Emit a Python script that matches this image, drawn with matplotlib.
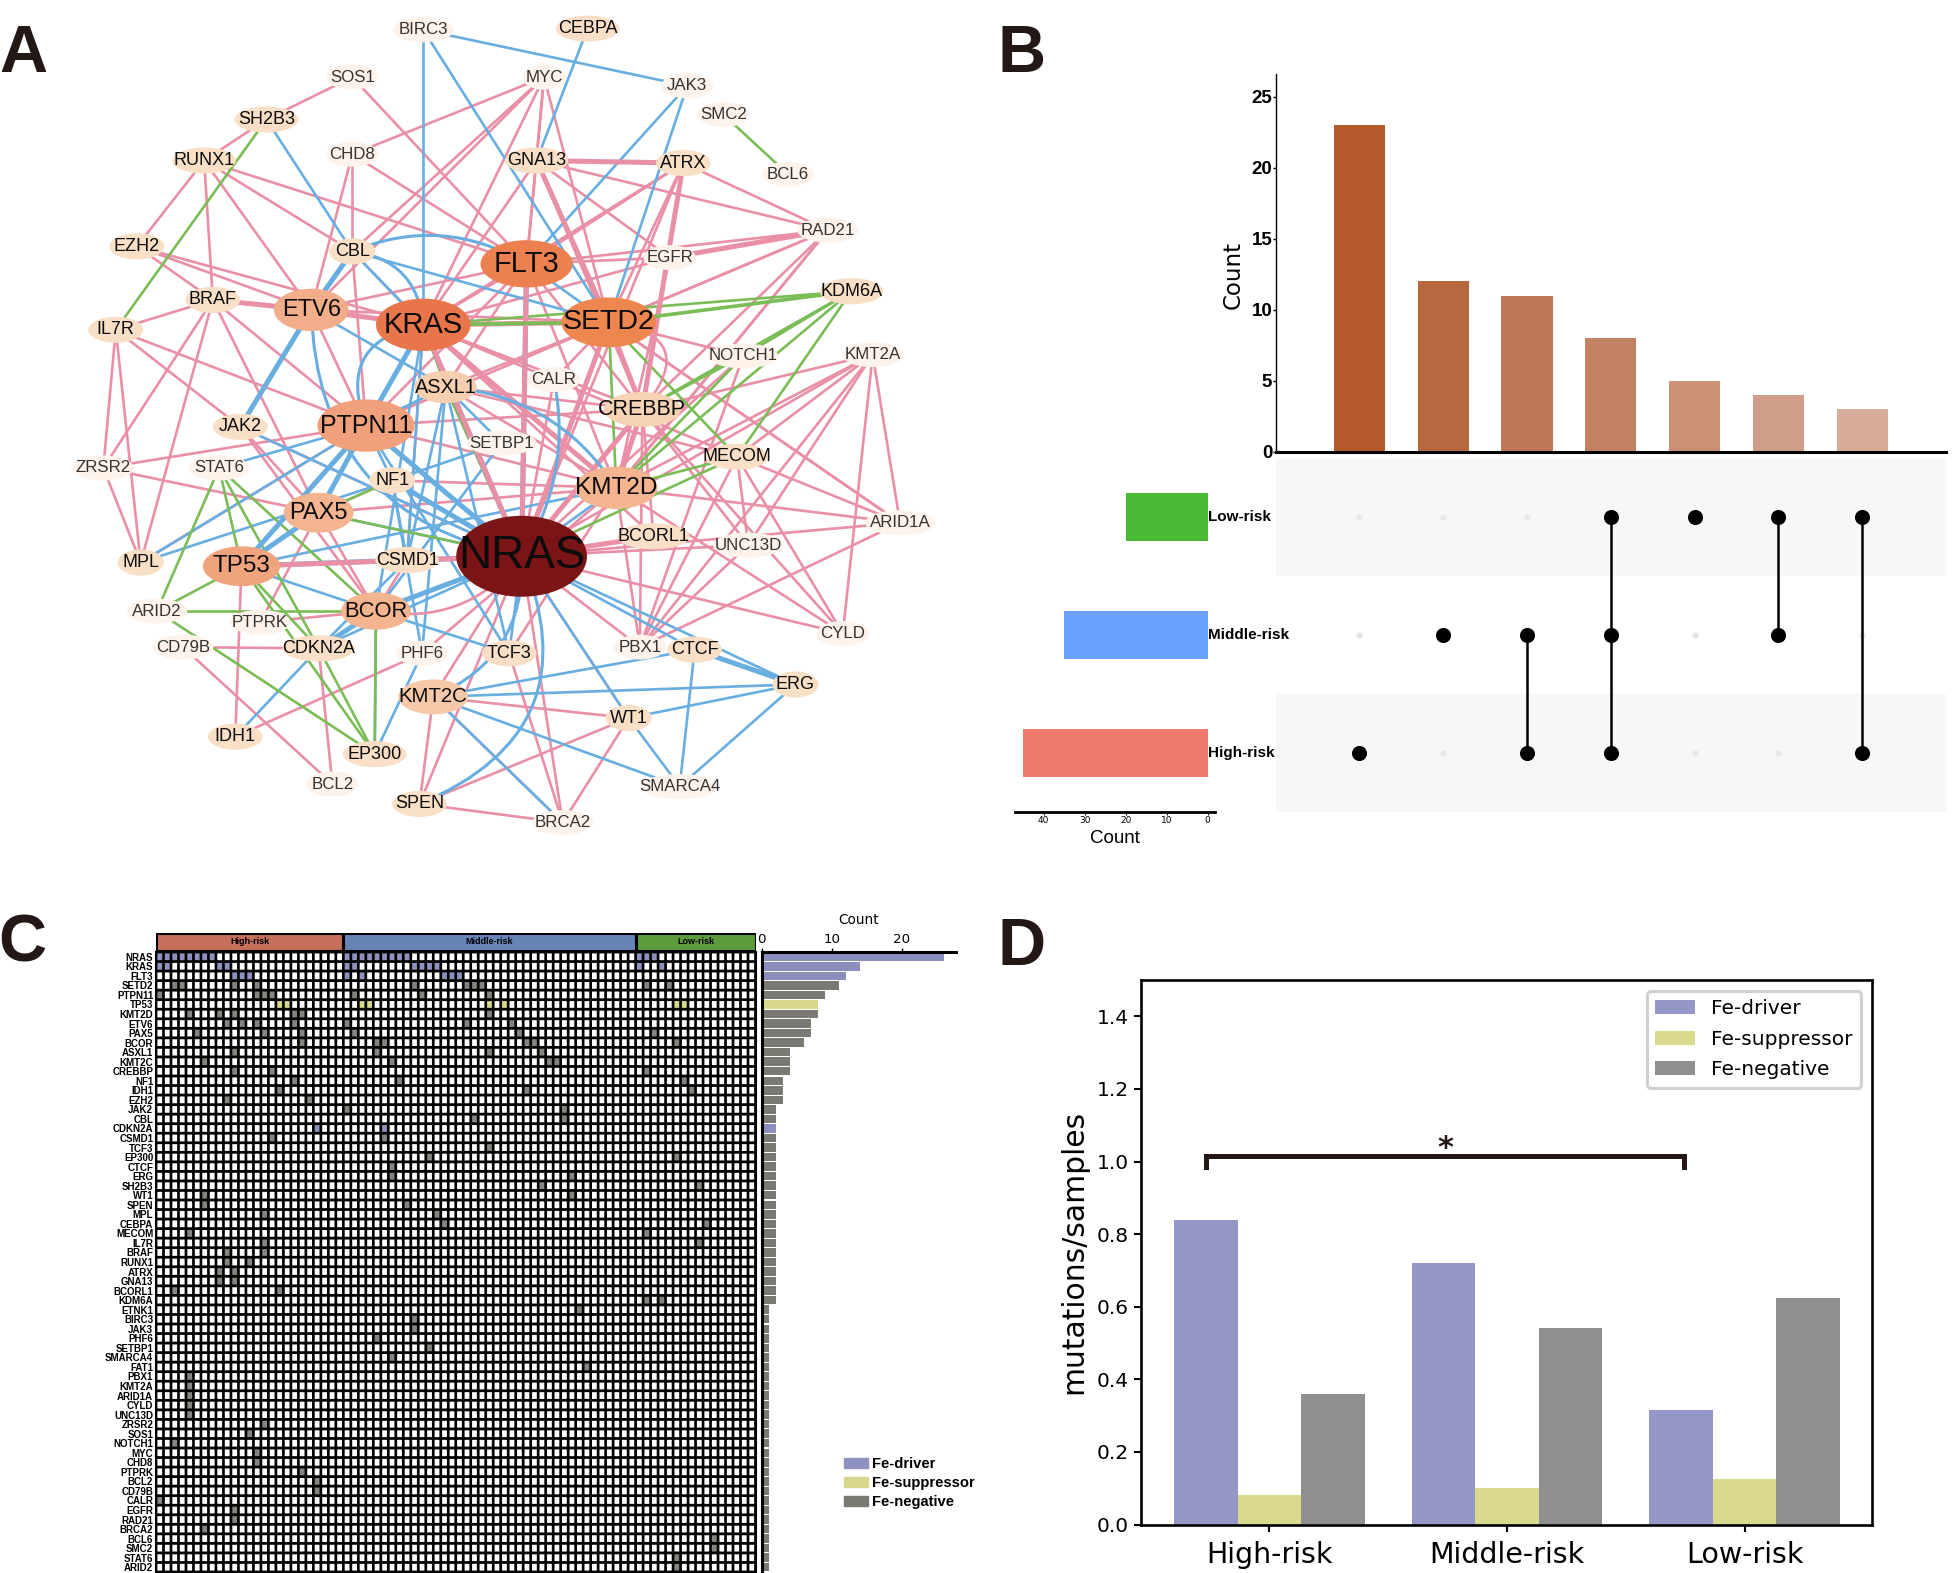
import numpy as np
import matplotlib
matplotlib.use('Agg')
import matplotlib.pyplot as plt
from matplotlib.collections import PolyCollection
from matplotlib.patches import Ellipse, FancyArrowPatch, Patch

W, H = 1952, 1573

# panel A, network (layout in the 1568 wide frame)
big_nodes = {'NRAS': (419, 447), 'KRAS': (340, 261), 'FLT3': (423, 212), 'SETD2': (489, 259),
             'PTPN11': (294, 342), 'ETV6': (250, 249), 'TP53': (194, 455), 'KMT2D': (495, 392),
             'PAX5': (256, 412), 'BCOR': (302, 491), 'ASXL1': (358, 311), 'CREBBP': (516, 329),
             'KMT2C': (348, 560)}
mid_nodes = {'NF1': (315, 386), 'CSMD1': (327, 450), 'TCF3': (409, 525), 'CDKN2A': (256, 521),
             'EP300': (301, 606), 'IDH1': (189, 592), 'SPEN': (337, 646), 'WT1': (505, 577),
             'ERG': (639, 550), 'CTCF': (558, 522), 'BCORL1': (525, 431), 'MECOM': (592, 367),
             'KDM6A': (684, 234), 'ATRX': (549, 131), 'GNA13': (431, 129), 'CBL': (283, 202),
             'BRAF': (171, 241), 'JAK2': (193, 343), 'MPL': (113, 452), 'IL7R': (93, 265),
             'EZH2': (110, 198), 'RUNX1': (164, 129), 'SH2B3': (214, 96), 'CEBPA': (472, 23)}
small_nodes = {'SOS1': (283, 62), 'BIRC3': (340, 24), 'MYC': (437, 62), 'JAK3': (552, 69),
               'SMC2': (581, 92), 'BCL6': (633, 140), 'CHD8': (283, 124), 'RAD21': (665, 185),
               'EGFR': (538, 207), 'NOTCH1': (597, 286), 'KMT2A': (701, 285), 'CALR': (445, 305),
               'SETBP1': (403, 356), 'STAT6': (176, 376), 'ZRSR2': (83, 376), 'ARID1A': (723, 420),
               'UNC13D': (601, 438), 'ARID2': (126, 491), 'PTPRK': (209, 500), 'CD79B': (147, 520),
               'PHF6': (339, 525), 'PBX1': (514, 520), 'CYLD': (677, 509), 'BCL2': (267, 630),
               'SMARCA4': (546, 632), 'BRCA2': (452, 661)}

pink_thin = """SOS1-SH2B3 SOS1-FLT3 SH2B3-RUNX1 CHD8-MYC CHD8-ETV6 CHD8-CBL CHD8-FLT3 RUNX1-EZH2
RUNX1-BRAF RUNX1-ETV6 RUNX1-CBL RUNX1-FLT3 EZH2-ETV6 EZH2-KRAS EZH2-BRAF IL7R-BRAF BRAF-PTPN11 BRAF-MPL
BRAF-ZRSR2 BRAF-PAX5 IL7R-JAK2 IL7R-PTPN11 IL7R-ZRSR2 IL7R-MPL ETV6-KRAS ETV6-FLT3 ETV6-SETD2 ETV6-PTPN11
CBL-PTPN11 CBL-ETV6 CBL-KRAS MYC-CBL MYC-ETV6 MYC-KRAS MYC-FLT3 MYC-SETD2 MYC-GNA13 GNA13-RAD21 GNA13-FLT3
GNA13-KRAS GNA13-EGFR GNA13-CREBBP ATRX-RAD21 ATRX-KRAS ATRX-FLT3 ATRX-SETD2 ATRX-NRAS RAD21-EGFR
RAD21-FLT3 RAD21-SETD2 RAD21-CREBBP RAD21-KMT2D RAD21-SETD2 EGFR-FLT3 EGFR-KMT2D EGFR-KRAS SETD2-NOTCH1
SETD2-ASXL1 SETD2-PTPN11 SETD2-ARID1A FLT3-KMT2D FLT3-ASXL1 FLT3-PTPN11 FLT3-CREBBP FLT3-KRAS KMT2A-MECOM KMT2A-CREBBP
KMT2A-KMT2D KMT2A-NRAS KMT2A-CYLD KMT2A-ARID1A KMT2A-UNC13D KMT2A-PBX1 ZRSR2-PTPN11 ZRSR2-PAX5 ZRSR2-MPL
MPL-PTPN11 TP53-PTPN11 BCOR-PAX5 BCOR-PTPRK PTPRK-PAX5 CD79B-CDKN2A CD79B-BCL2 CDKN2A-BCL2 TP53-IDH1
IDH1-PHF6 SPEN-KMT2C SPEN-NRAS SPEN-BRCA2 SPEN-WT1 KMT2C-BRCA2 KMT2C-WT1 KMT2C-NRAS BCOR-CSMD1 BCOR-NRAS
NRAS-PBX1 NRAS-CYLD NRAS-ARID1A NRAS-UNC13D NRAS-BRCA2 NRAS-ASXL1 NRAS-KRAS NRAS-PTPN11 NRAS-NF1 PBX1-MECOM
PBX1-UNC13D PBX1-ARID1A CYLD-KMT2D CYLD-CREBBP CYLD-MECOM UNC13D-CREBBP UNC13D-MECOM KMT2D-ARID1A
KMT2D-PBX1 MECOM-ARID1A SETD2-ARID1A ASXL1-KMT2D ASXL1-CREBBP ASXL1-MECOM KRAS-CREBBP KRAS-MECOM
PTPN11-CREBBP PTPN11-KMT2D NF1-KMT2D NF1-PAX5 PAX5-KMT2D JAK2-PAX5 JAK2-BCOR JAK2-NRAS WT1-NRAS WT1-BRCA2
BRCA2-TCF3 PHF6-KMT2D CSMD1-KRAS TCF3-KMT2D CALR-NRAS CALR-SETD2 CREBBP-BCORL1 CREBBP-PBX1 BCORL1-KRAS
NOTCH1-PBX1 NOTCH1-NRAS RAD21-KMT2D""".split()
pink_thick = """GNA13-ATRX BRAF-ETV6 GNA13-SETD2 ATRX-CREBBP SETD2-CREBBP SETD2-NRAS FLT3-NRAS
KRAS-KMT2D KRAS-SETD2 KRAS-NRAS TP53-NRAS CREBBP-NRAS CREBBP-KMT2D NRAS-BCORL1 ETV6-KRAS RAD21-EGFR""".split()
blue_thin = """BIRC3-KRAS BIRC3-JAK3 BIRC3-SETD2 SH2B3-CBL CBL-KRAS CBL-SETD2 CEBPA-GNA13 JAK3-FLT3
JAK3-SETD2 MPL-PTPN11 MPL-NF1 STAT6-PTPN11 TP53-BCOR IDH1-CDKN2A EP300-BCOR EP300-PHF6 CDKN2A-CSMD1 CDKN2A-NRAS
BCOR-TCF3 TCF3-NRAS TCF3-ASXL1 PHF6-NF1 PHF6-ASXL1 PTPN11-NF1 JAK2-NRAS CSMD1-NF1 CSMD1-ASXL1 KMT2C-CTCF
KMT2C-ERG KMT2C-SMARCA4 CTCF-NRAS ERG-NRAS CTCF-SMARCA4 ERG-SMARCA4 WT1-ERG WT1-SMARCA4 WT1-NRAS BRCA2-KMT2C
ETV6-ASXL1 KRAS-KMT2D SETBP1-NF1 SETBP1-BCOR ASXL1-SETBP1 KRAS-BCOR PTPN11-ASXL1 FLT3-SETD2 PAX5-NRAS TP53-KMT2D
PTPN11-TCF3 KRAS-CSMD1 KMT2D-NRAS""".split()
blue_thick = """ETV6-CBL ETV6-JAK2 FLT3-NRAS TP53-PTPN11 TP53-CSMD1 CSMD1-NRAS BCOR-NRAS CDKN2A-BCOR
PTPN11-NRAS KRAS-PTPN11 NF1-NRAS CTCF-ERG KRAS-NRAS TP53-PAX5 PTPN11-PAX5""".split()
blue_curved = [('CBL', 'FLT3', -0.25), ('CBL', 'KRAS', -0.4), ('ETV6', 'NRAS', 0.4), ('KRAS', 'PTPN11', 0.6),
               ('ASXL1', 'KMT2D', -0.25), ('KMT2C', 'NRAS', 0.35), ('SPEN', 'NRAS', 0.5), ('CALR', 'NRAS', -0.2)]
pink_curved = [('BCOR', 'NRAS', 0.3), ('SETD2', 'CREBBP', -0.9)]
green_thin = """SMC2-BCL6 SH2B3-IL7R KDM6A-KRAS KDM6A-NOTCH1 KDM6A-CREBBP KDM6A-KMT2D KDM6A-MECOM NOTCH1-CREBBP
NOTCH1-KMT2D SETD2-MECOM SETD2-KMT2D SETD2-NRAS MECOM-KMT2D MECOM-NRAS ASXL1-KRAS ASXL1-NRAS
STAT6-ARID2 STAT6-TP53 STAT6-BCOR TP53-ARID2 ARID2-BCOR ARID2-EP300 TP53-PAX5 TP53-CDKN2A TP53-EP300
CDKN2A-EP300 BCOR-EP300 PAX5-NF1 PAX5-NRAS STAT6-CDKN2A""".split()
green_thick = ['KDM6A-SETD2', 'KRAS-SETD2']

# panel B
combo_counts = [23, 12, 11, 8, 5, 4, 3]
combo_colors = ['#b55a2b', '#b8683f', '#bf7757', '#c48265', '#cb9278', '#d09e88', '#d7ac99']
risk_sets = ['High-risk', 'Middle-risk', 'Low-risk']
set_sizes = [45, 35, 20]
set_colors = ['#ef7b6e', '#6ba2ff', '#4aba35']
combo_members = [[0], [1], [0, 1], [0, 1, 2], [2], [1, 2], [0, 2]]

# panel C
genes = """NRAS KRAS FLT3 SETD2 PTPN11 TP53 KMT2D ETV6 PAX5 BCOR ASXL1 KMT2C CREBBP NF1 IDH1 EZH2 JAK2 CBL
CDKN2A CSMD1 TCF3 EP300 CTCF ERG SH2B3 WT1 SPEN MPL CEBPA MECOM IL7R BRAF RUNX1 ATRX GNA13 BCORL1 KDM6A ETNK1
BIRC3 JAK3 PHF6 SETBP1 SMARCA4 FAT1 PBX1 KMT2A ARID1A CYLD UNC13D ZRSR2 SOS1 NOTCH1 MYC CHD8 PTPRK BCL2 CD79B
CALR EGFR RAD21 BRCA2 BCL6 SMC2 STAT6 ARID2""".split()
gene_counts = [26, 14, 12, 11, 9, 8, 8, 7, 7, 6, 4, 4, 4, 3, 3, 3] + [2] * 21 + [1] * 28
driver_genes = ['NRAS', 'KRAS', 'FLT3', 'CDKN2A']
suppressor_genes = ['TP53']
mutated = {
    'NRAS': [0, 1, 2, 3, 4, 5, 6, 7, 25, 26, 27, 28, 29, 30, 31, 32, 33, 64, 65, 66],
    'KRAS': [0, 1, 8, 9, 25, 26, 34, 35, 36, 37, 64, 67],
    'FLT3': [10, 11, 12, 25, 27, 38, 39, 40],
    'SETD2': [2, 3, 10, 13, 34, 41, 42, 43, 65, 68],
    'PTPN11': [0, 13, 14, 15, 26, 35, 44],
    'TP53': [16, 17, 27, 28, 44, 46, 69, 70],
    'KMT2D': [4, 8, 10, 18, 19, 44],
    'ETV6': [9, 11, 13, 18, 25, 41, 47],
    'PAX5': [5, 14, 19, 26, 48, 66],
    'BCOR': [19, 29, 30, 49, 50, 69],
    'ASXL1': [10, 29, 44, 51],
    'KMT2C': [6, 31, 52, 53],
    'CREBBP': [10, 15, 65],
    'NF1': [18, 32, 70],
    'IDH1': [16, 49, 71],
    'EZH2': [9, 20],
    'JAK2': [25, 54],
    'CBL': [42, 54],
    'CDKN2A': [21, 30],
    'CSMD1': [15, 30],
    'TCF3': [44],
    'EP300': [36, 69],
    'CTCF': [31],
    'ERG': [31, 55],
    'SH2B3': [51, 72],
    'WT1': [6, 55],
    'SPEN': [6, 33],
    'MPL': [14, 37],
    'CEBPA': [38, 73],
    'MECOM': [4, 65],
    'IL7R': [14, 72],
    'BRAF': [9, 14],
    'RUNX1': [9, 12],
    'ATRX': [8, 10],
    'GNA13': [8, 10],
    'BCORL1': [2, 16],
    'KDM6A': [65, 67],
    'ETNK1': [56],
    'BIRC3': [34],
    'JAK3': [34],
    'PHF6': [29],
    'SETBP1': [36],
    'SMARCA4': [31],
    'FAT1': [57],
    'PBX1': [4],
    'KMT2A': [4],
    'ARID1A': [4],
    'CYLD': [4],
    'UNC13D': [4],
    'ZRSR2': [14],
    'SOS1': [12],
    'NOTCH1': [2],
    'MYC': [13],
    'CHD8': [13],
    'PTPRK': [19],
    'BCL2': [21],
    'CD79B': [21],
    'CALR': [0],
    'EGFR': [10],
    'RAD21': [10],
    'BRCA2': [6],
    'BCL6': [74],
    'SMC2': [74],
    'STAT6': [69],
    'ARID2': [69],
}
group_names = ['High-risk', 'Middle-risk', 'Low-risk']
group_sizes = [25, 39, 16]
group_colors = ['#c4705c', '#6685b5', '#5c9a3c']

# panel D
d_groups = ['High-risk', 'Middle-risk', 'Low-risk']
fe_driver = [0.84, 0.72, 0.315]
fe_suppressor = [0.08, 0.10, 0.125]
fe_negative = [0.36, 0.54, 0.625]

DRIVER = '#9598c6'
SUPP = '#d9d98f'
NEG = '#8f8f8f'
DARK = '#231815'
ARIAL = 'Liberation Sans'


def rect(l, t, r, b):
    return [l / W, 1 - b / H, (r - l) / W, (b - t) / H]


fig = plt.figure(figsize=(W / 100, H / 100), dpi=100)

for letter, lx, ly in [('A', -1, 72), ('B', 998, 72), ('C', -2, 962), ('D', 997, 965)]:
    fig.text(lx / W, 1 - ly / H, letter, fontsize=48, fontweight='bold', family=ARIAL, color=DARK,
             ha='left', va='baseline')

# ---- A ----
ax = fig.add_axes([0, 0, 1, 1])
ax.set_xlim(0, 1568)
ax.set_ylim(1264, 0)
ax.axis('off')
pos = {}
pos.update(big_nodes)
pos.update(mid_nodes)
pos.update(small_nodes)


def straight(edges, color, lw):
    for e in edges:
        a, b = e.split('-')
        ax.plot([pos[a][0], pos[b][0]], [pos[a][1], pos[b][1]], color=color, lw=lw,
                solid_capstyle='butt', zorder=1)


def curved(edges, color, lw):
    for a, b, rad in edges:
        ax.add_patch(FancyArrowPatch(pos[a], pos[b], arrowstyle='-', connectionstyle='arc3,rad=%g' % rad,
                                     color=color, lw=lw, zorder=1, shrinkA=0, shrinkB=0))


PINK, BLUE, GREEN = '#e98fa6', '#68aee0', '#7abd56'
straight(pink_thin, PINK, 1.9)
straight(blue_thin, BLUE, 1.9)
straight(green_thin, GREEN, 1.9)
straight(blue_thick, BLUE, 3.6)
straight(pink_thick, PINK, 3.6)
straight(green_thick, GREEN, 2.6)
curved(blue_curved, BLUE, 2.2)
curved(pink_curved, PINK, 1.9)

node_style = {'NRAS': (105, 65, '#7a1416', 33), 'KRAS': (76, 42, '#e8764a', 21), 'FLT3': (74, 38, '#ec8050', 21),
              'SETD2': (76, 40, '#ee8650', 20.5), 'PTPN11': (78, 42, '#f0a07a', 18), 'ETV6': (60, 34, '#f2ae8a', 17),
              'TP53': (62, 32, '#f0a47e', 17.5), 'KMT2D': (66, 34, '#f3b48f', 17.6), 'PAX5': (56, 32, '#f3b48f', 17),
              'BCOR': (56, 30, '#f3b48f', 15.8), 'ASXL1': (50, 26, '#f7cfb0', 14.3), 'CREBBP': (62, 28, '#f7d3b6', 15.5),
              'KMT2C': (56, 28, '#f5c8a8', 14.7)}
for name, (x, y) in pos.items():
    if name in big_nodes:
        w, h, c, fs, tc = *node_style[name], '#0c0c0c'
    elif name in mid_nodes:
        w, h, c, fs, tc = len(name) * 7 + 16, 21, '#f9dfc6', 13, '#0c0c0c'
    else:
        w, h, c, fs, tc = len(name) * 7 + 14, 20, '#fdf3ea', 12.2, '#333333'
    ax.add_patch(Ellipse((x, y), w, h, facecolor=c, edgecolor='none', zorder=2))
    ax.text(x, y, name, fontsize=fs, family=ARIAL, color=tc, ha='center', va='center', zorder=3)

# ---- B ----
ax = fig.add_axes(rect(1275.6, 74, 1946, 452))
ax.bar(range(7), combo_counts, width=0.61, color=combo_colors)
ax.set_xlim(-1, 7)
ax.set_ylim(0, 26.6)
ax.set_xticks([])
ax.set_yticks([0, 5, 10, 15, 20, 25])
ax.tick_params(axis='y', length=2, width=1, pad=0.5, labelsize=13.5)
for t in ax.get_yticklabels():
    t.set_family(ARIAL)
    t.set_fontweight('bold')
for s in ['top', 'right']:
    ax.spines[s].set_visible(False)
ax.spines['left'].set_linewidth(1)
ax.spines['bottom'].set_linewidth(2.2)
ax.set_ylabel('Count', fontsize=16.5, labelpad=5, y=0.468)
ax.patch.set_alpha(0)

ax = fig.add_axes(rect(1275.6, 457.7, 1946, 811.7))
ax.axhspan(0, 1, color='#f7f7f7', lw=0)
ax.axhspan(2, 3, color='#f7f7f7', lw=0)
for i, members in enumerate(combo_members):
    rows = [m + 0.5 for m in members]
    for r in [0.5, 1.5, 2.5]:
        if r not in rows:
            ax.scatter(i, r, s=22, color='#e8e8e8', linewidths=0, zorder=2)
    ax.scatter([i] * len(rows), rows, s=118, color='k', linewidths=0, zorder=3)
    if len(rows) > 1:
        ax.plot([i, i], [min(rows), max(rows)], color='k', lw=1.8, zorder=3)
ax.set_xlim(-1, 7)
ax.set_ylim(0, 3)
ax.axis('off')

ax = fig.add_axes(rect(1015, 457.7, 1215, 811.7))
ax.barh([0.5, 1.5, 2.5], set_sizes, height=0.41, color=set_colors)
ax.set_xlim(47, -1.8)
ax.set_ylim(0, 3)
ax.set_yticks([])
ax.set_xticks([0, 10, 20, 30, 40])
ax.tick_params(axis='x', length=2, width=0.8, pad=1, labelsize=6.5)
for s in ['top', 'right', 'left']:
    ax.spines[s].set_visible(False)
ax.spines['bottom'].set_linewidth(2)
ax.set_xlabel('Count', fontsize=13.5, family=ARIAL, labelpad=4)
for i, name in enumerate(risk_sets):
    ax.text(0, i + 0.5, name, fontsize=11, family=ARIAL, fontweight='bold', ha='left', va='center', clip_on=False)
ax.patch.set_alpha(0)

# ---- C ----
n_rows, n_cols = len(genes), sum(group_sizes)
cell_colors = {0: 'white', 1: '#8f92c0', 2: '#d8d88c', 3: '#85857f'}
mat = np.zeros((n_rows, n_cols), dtype=int)
for i, g in enumerate(genes):
    code = 1 if g in driver_genes else 2 if g in suppressor_genes else 3
    for c in mutated[g]:
        mat[i, c] = code

ax = fig.add_axes(rect(156, 952, 755.5, 1572))
ax.set_facecolor('k')
cw, ch = 0.32, 0.355
verts, faces = [], []
for i in range(n_rows):
    for j in range(n_cols):
        cx, cy = j + 0.5, i + 0.5
        verts.append([(cx - cw, cy - ch), (cx + cw, cy - ch), (cx + cw, cy + ch), (cx - cw, cy + ch)])
        faces.append(cell_colors[mat[i, j]])
cells = PolyCollection(verts, facecolors=faces, edgecolors='none')
cells.set_snap(False)
ax.add_collection(cells)
ax.set_ylim(n_rows, 0)
ax.set_xlim(0, n_cols)
ax.set_xticks([])
ax.set_yticks(np.arange(n_rows) + 0.5)
ax.set_yticklabels(genes, fontsize=7, family=ARIAL, fontweight='bold')
ax.tick_params(axis='y', length=0, pad=2)
for s in ax.spines.values():
    s.set_linewidth(1.5)

ax = fig.add_axes(rect(156, 933, 755.5, 951))
left = 0
for name, size, c in zip(group_names, group_sizes, group_colors):
    ax.barh(0, size, left=left, height=1, color=c, edgecolor='k', linewidth=2.2)
    ax.text(left + size / 2, 0, name, fontsize=6.5, family=ARIAL, fontweight='bold', ha='center', va='center')
    left += size
ax.set_xlim(0, n_cols)
ax.set_ylim(-0.5, 0.5)
ax.axis('off')

ax = fig.add_axes(rect(761.7, 952, 955.7, 1572))
bar_colors = ['#8b8ebf' if g in driver_genes else '#d8d88c' if g in suppressor_genes else '#7a7a72' for g in genes]
ax.barh(np.arange(n_rows) + 0.5, gene_counts, height=0.88, color=bar_colors)
ax.set_ylim(n_rows, 0)
ax.set_xlim(0, 27.7)
ax.xaxis.tick_top()
ax.xaxis.set_label_position('top')
ax.set_xticks([0, 10, 20])
ax.set_yticks([])
ax.tick_params(axis='x', length=3, width=1, pad=1.5, labelsize=9.6)
ax.set_xlabel('Count', fontsize=9.8, labelpad=6)
for s in ['bottom', 'right']:
    ax.spines[s].set_visible(False)
ax.spines['top'].set_linewidth(2.2)
ax.spines['left'].set_linewidth(2.2)

fig.legend(handles=[Patch(color='#8f92c0', label='Fe-driver'), Patch(color='#d8d88c', label='Fe-suppressor'),
                    Patch(color='#7a7a72', label='Fe-negative')],
           loc='upper left', bbox_to_anchor=(844 / W, 1 - 1457 / H), frameon=False, handlelength=1.6, handleheight=0.7,
           handletextpad=0.3, labelspacing=0.35, borderpad=0, borderaxespad=0,
           prop={'family': ARIAL, 'size': 10.6, 'weight': 'bold'})

# ---- D ----
ax = fig.add_axes(rect(1140.6, 980, 1872, 1524.5))
x = np.arange(3)
bw = 0.267
ax.bar(x - bw, fe_driver, bw, color=DRIVER, label='Fe-driver')
ax.bar(x, fe_suppressor, bw, color=SUPP, label='Fe-suppressor')
ax.bar(x + bw, fe_negative, bw, color=NEG, label='Fe-negative')
ax.set_xlim(-0.542, 2.536)
ax.set_ylim(0, 1.5)
ax.set_xticks(x)
ax.set_xticklabels(d_groups, fontsize=20.5)
ax.set_yticks([0, 0.2, 0.4, 0.6, 0.8, 1.0, 1.2, 1.4])
ax.tick_params(axis='y', labelsize=14.5, width=1.5, length=5)
ax.tick_params(axis='x', width=1.5, length=5, pad=7)
ax.set_ylabel('mutations/samples', fontsize=21.4, labelpad=6)
for s in ax.spines.values():
    s.set_linewidth(1.9)
ax.plot([-0.265, -0.265, 1.745, 1.745], [0.985, 1.015, 1.015, 0.985], color=DARK, lw=3.6, solid_joinstyle='miter')
ax.text(0.74, 0.995, '*', fontsize=22, fontweight='bold', ha='center', va='bottom', color=DARK)
leg = ax.legend(loc='upper right', fontsize=14.5, borderaxespad=0.55, labelspacing=0.58, fancybox=True, framealpha=1)
leg.get_frame().set_edgecolor('#d0d0d0')
leg.get_frame().set_linewidth(2.2)

fig.savefig('out.png', dpi=100)
